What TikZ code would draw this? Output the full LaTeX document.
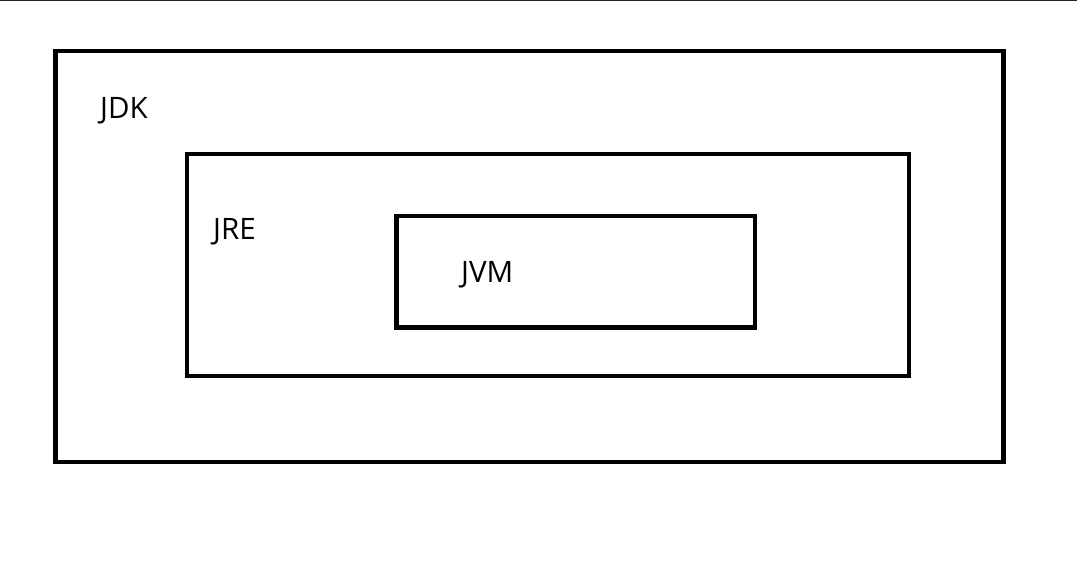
\documentclass[tikz,border=0pt]{standalone}
\usepackage{fontspec}
\setmainfont{Open Sans}
\usetikzlibrary{positioning}

\tikzset{
    layer/.style={draw, line width=4.5pt, rectangle, inner sep=0pt},
    tag/.style={anchor=base west, inner sep=0pt, font=\fontsize{29.5}{34}\selectfont}
}

\begin{document}
\begin{tikzpicture}[x=1pt, y=-1pt]
        \useasboundingbox (0,0) rectangle (1077,562);
        \draw[line width=1.5pt, black!85] (0,0.5) -- (1077,0.5);
        \node[layer, minimum width=948pt, minimum height=411pt](JDK) at (529.5,256.5) {};
        \node[layer, minimum width=722pt, minimum height=222pt](JRE) at (548,265) {};
        \node[layer, minimum width=358.5pt, minimum height=111.5pt](JVM) at (575.75,271.75) {};
        \node[tag](jdklabel) at (100,118) {JDK};
        \node[tag](jrelabel) at (213,239) {JRE};
        \node[tag](jvmlabel) at (461,282) {JVM};
    \end{tikzpicture}
\end{document}
